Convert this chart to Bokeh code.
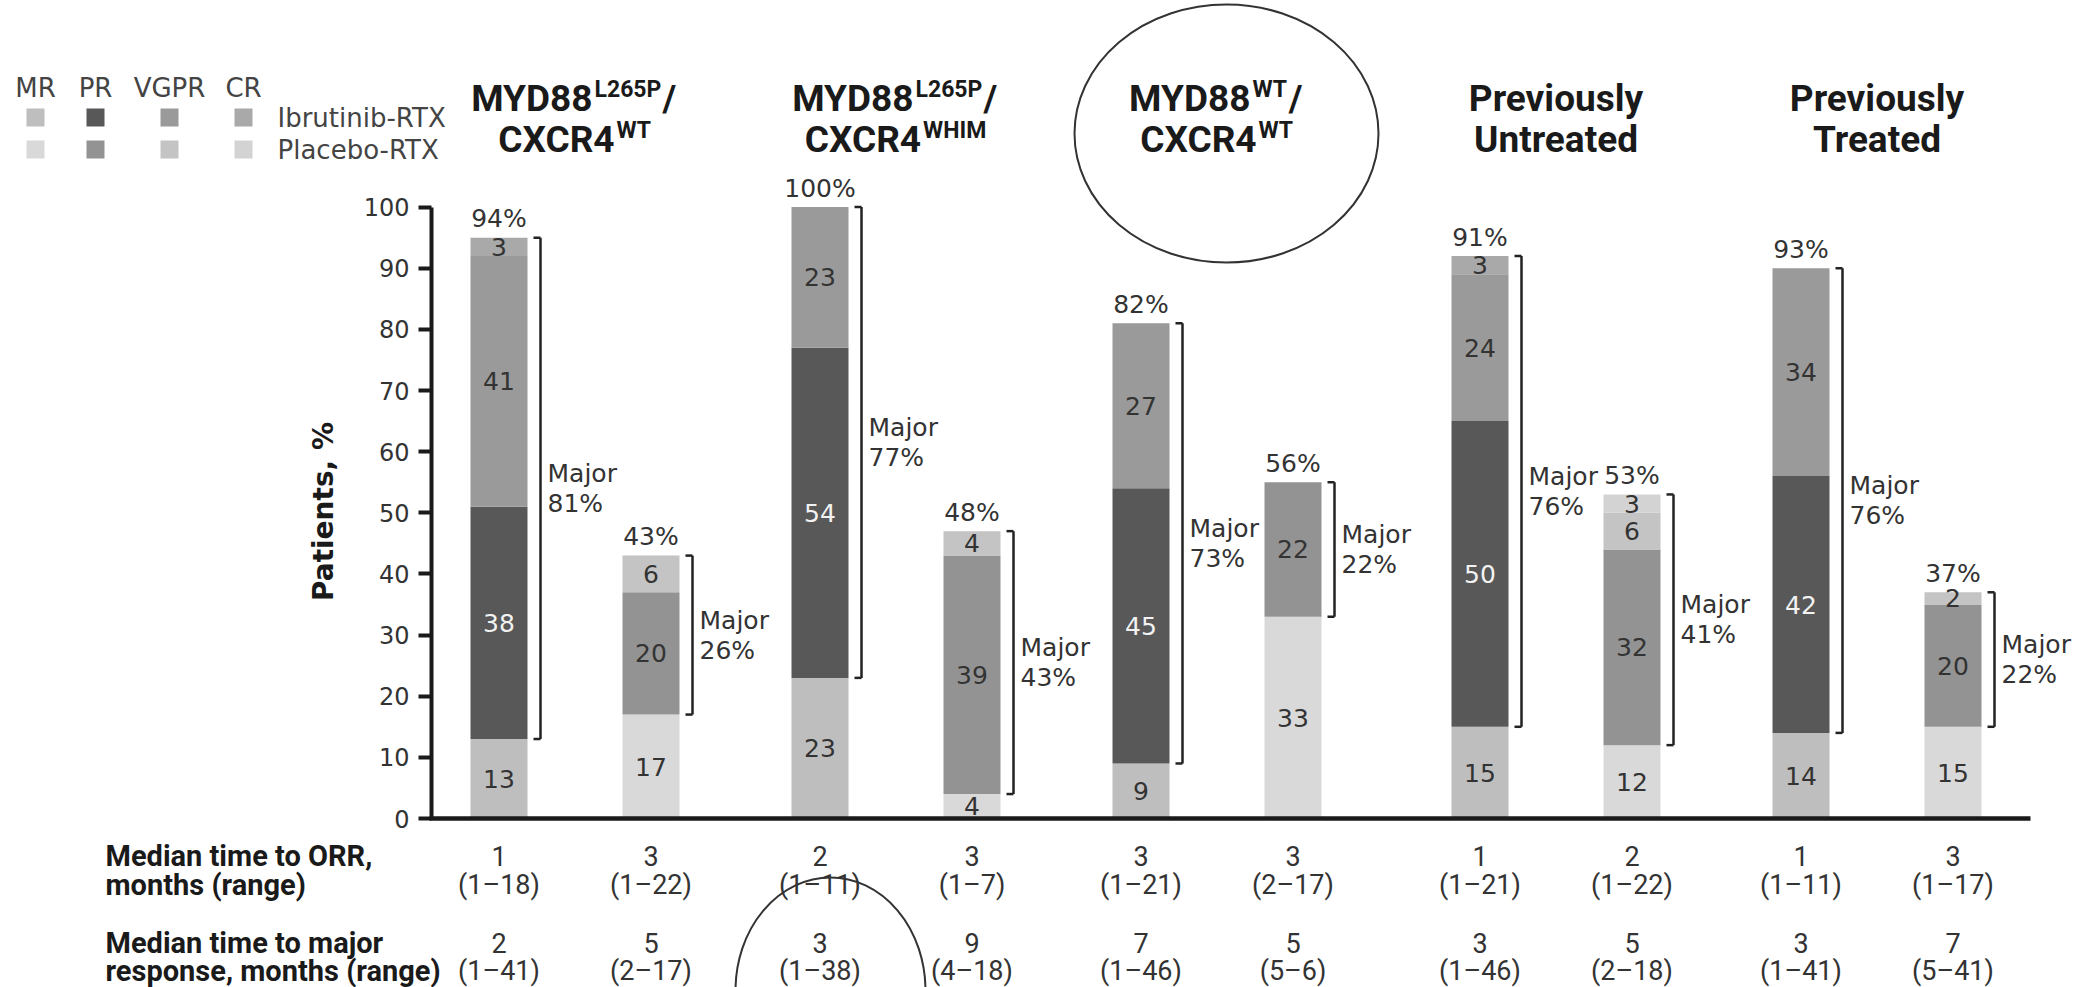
from bokeh.plotting import figure
from bokeh.models import Range1d, LinearAxis, FixedTicker, ColumnDataSource
from bokeh.core.properties import value
from bokeh.embed import file_html
from bokeh.resources import INLINE

# ---------------- data ----------------
responses = ["MR", "PR", "VGPR", "CR"]
arms = ["Ibrutinib-RTX", "Placebo-RTX"]

# subgroup headings (main text, superscript, trailing text) for two lines
head1_main = ["MYD88", "MYD88", "MYD88", "Previously", "Previously"]
head1_sup = ["L265P", "L265P", "WT", "", ""]
head1_tail = ["/", "/", "/", "", ""]
head2_main = ["CXCR4", "CXCR4", "CXCR4", "Untreated", "Treated"]
head2_sup = ["WT", "WHIM", "WT", "", ""]

# response rates (%), one entry per bar: (subgroup x arm) in order
mr = [13, 17, 23, 4, 9, 33, 15, 12, 14, 15]
pr = [38, 20, 54, 39, 45, 22, 50, 32, 42, 20]
vgpr = [41, 6, 23, 4, 27, 0, 24, 6, 34, 2]
cr = [3, 0, 0, 0, 0, 0, 3, 3, 0, 0]
overall = [94, 43, 100, 48, 82, 56, 91, 53, 93, 37]
major = [81, 26, 77, 43, 73, 22, 76, 41, 76, 22]

row1_label = ["Median time to ORR,", "months (range)"]
row2_label = ["Median time to major", "response, months (range)"]
orr_median = ["1", "3", "2", "3", "3", "3", "1", "2", "1", "3"]
orr_range = ["(1–18)", "(1–22)", "(1–11)", "(1–7)", "(1–21)",
             "(2–17)", "(1–21)", "(1–22)", "(1–11)", "(1–17)"]
major_median = ["2", "5", "3", "9", "7", "5", "3", "5", "3", "7"]
major_range = ["(1–41)", "(2–17)", "(1–38)", "(4–18)", "(1–46)",
               "(5–6)", "(1–46)", "(2–18)", "(1–41)", "(5–41)"]

y_ticks = [0, 10, 20, 30, 40, 50, 60, 70, 80, 90, 100]

# ---------------- styling / layout ----------------
W, H = 2087, 987
Y0_PX = 818.0          # canvas row of 0 %
PX_PER_PCT = 6.114     # pixels per percentage point


def ypos(px):
    """data y for a canvas row"""
    return (Y0_PX - px) / PX_PER_PCT


def dy(px):
    return px / PX_PER_PCT


AXIS_X = 431
FIRST_BAR = 498.5
GROUP_STEP = 321
SECTION_GAP = 18
ARM_STEP = 152
BAR_W = 57

FONT = "DejaVu Sans"
BOLD = "Roboto"
NARROW = "Roboto"
TXT = "#333333"

palette = {
    "Ibrutinib-RTX": {"MR": "#bebebe", "PR": "#585858", "VGPR": "#9a9a9a", "CR": "#a9a9a9"},
    "Placebo-RTX": {"MR": "#d9d9d9", "PR": "#939393", "VGPR": "#c4c4c4", "CR": "#d3d3d3"},
}

n_groups = len(head1_main)
centers, bar_arm = [], []
for g in range(n_groups):
    base = FIRST_BAR + g * GROUP_STEP + (SECTION_GAP if g >= 3 else 0)
    for a, arm in enumerate(arms):
        centers.append(base + a * ARM_STEP)
        bar_arm.append(arm)
group_centers = [(centers[2 * g] + centers[2 * g + 1]) / 2 for g in range(n_groups)]

p = figure(width=W, height=H, output_backend="svg", toolbar_location=None,
           x_range=Range1d(0, W), y_range=Range1d(ypos(H), ypos(0)),
           x_axis_type=None, y_axis_type=None, min_border=0,
           outline_line_color=None, background_fill_color="white")
p.xgrid.visible = False
p.ygrid.visible = False

# ---------------- stacked bars ----------------
seg = dict(x=[], bottom=[], top=[], color=[], label=[], ly=[], lcolor=[])
stack_top = []
for i, x in enumerate(centers):
    arm = bar_arm[i]
    base = 0.0
    for resp, vals in zip(responses, [mr, pr, vgpr, cr]):
        v = vals[i]
        if v <= 0:
            continue
        seg["x"].append(x)
        seg["bottom"].append(base)
        seg["top"].append(base + v)
        seg["color"].append(palette[arm][resp])
        seg["label"].append(str(v))
        seg["ly"].append(base + v / 2)
        seg["lcolor"].append("#f2f2f2" if (resp == "PR" and arm == arms[0]) else TXT)
        base += v
    stack_top.append(base)
src = ColumnDataSource(seg)
p.vbar(x="x", bottom="bottom", top="top", width=BAR_W, fill_color="color",
       line_color=None, source=src)
p.text(x="x", y="ly", text="label", text_color="lcolor", source=src,
       text_font=value(FONT), text_font_size="25px",
       text_align="center", text_baseline="middle")

# overall response on top of each bar
p.text(x=centers, y=[t + dy(19) for t in stack_top], text=[f"{v}%" for v in overall],
       text_font=value(FONT), text_font_size="25px", text_color=TXT,
       text_align="center", text_baseline="middle")

# major-response brackets
bx = [x + BAR_W / 2 + 13 for x in centers]
b_lo = [mr[i] for i in range(len(centers))]
b_hi = stack_top
p.segment(x0=bx, y0=b_lo, x1=bx, y1=b_hi, line_color="#222222", line_width=2.5)
p.segment(x0=[x - 7 for x in bx], y0=b_lo, x1=bx, y1=b_lo, line_color="#222222", line_width=2.5)
p.segment(x0=[x - 7 for x in bx], y0=b_hi, x1=bx, y1=b_hi, line_color="#222222", line_width=2.5)
mids = [(lo + hi) / 2 for lo, hi in zip(b_lo, b_hi)]
p.text(x=[x + 7 for x in bx], y=[m + dy(15) for m in mids], text=["Major"] * len(bx),
       text_font=value(FONT), text_font_size="25px", text_color=TXT,
       text_align="left", text_baseline="middle")
p.text(x=[x + 7 for x in bx], y=[m - dy(15) for m in mids], text=[f"{v}%" for v in major],
       text_font=value(FONT), text_font_size="25px", text_color=TXT,
       text_align="left", text_baseline="middle")

# ---------------- axes ----------------
yax = LinearAxis(fixed_location=AXIS_X, bounds=(0, 100), ticker=FixedTicker(ticks=y_ticks))
yax.axis_line_width = 4
yax.axis_line_color = "#1a1a1a"
yax.major_tick_line_width = 4
yax.major_tick_line_color = "#1a1a1a"
yax.major_tick_out = 13
yax.major_tick_in = 0
yax.minor_tick_out = 0
yax.minor_tick_in = 0
yax.major_label_standoff = 9
yax.major_label_text_font = FONT
yax.major_label_text_font_size = "24px"
yax.major_label_text_color = TXT
p.add_layout(yax, "left")

xax = LinearAxis(fixed_location=0, bounds=(AXIS_X - 2, 2030), ticker=FixedTicker(ticks=[]))
xax.axis_line_width = 4.5
xax.axis_line_color = "#1a1a1a"
xax.major_tick_out = 0
xax.major_tick_in = 0
xax.minor_tick_out = 0
xax.minor_tick_in = 0
xax.major_label_text_font_size = "0px"
p.add_layout(xax, "below")

p.text(x=[323], y=[ypos(511)], text=["Patients, %"], angle=1.5707963,
       text_font=value(FONT), text_font_style="bold", text_font_size="28px",
       text_color="#1a1a1a", text_align="center", text_baseline="middle")

# ---------------- subgroup headings ----------------
EM = {"M": 0.88, "Y": 0.63, "D": 0.66, "8": 0.56, "C": 0.65, "X": 0.63, "R": 0.63,
      "4": 0.56, "L": 0.55, "2": 0.56, "6": 0.56, "5": 0.56, "P": 0.64, "W": 0.87,
      "T": 0.62, "H": 0.71, "I": 0.29, "/": 0.45}
HEAD_SIZE, SUP_SIZE = 37, 23


def text_w(s, size):
    return sum(EM.get(c, 0.55) for c in s) * size


def heading_line(c, main, sup, tail, base_px, sup_base_px):
    if not sup:
        p.text(x=[c], y=[ypos(base_px)], text=[main], text_font=value(BOLD),
               text_font_style="bold", text_font_size=f"{HEAD_SIZE}px",
               text_color="#1a1a1a", text_align="center", text_baseline="alphabetic")
        return
    wm, ws, wt = text_w(main, HEAD_SIZE), text_w(sup, SUP_SIZE), text_w(tail, HEAD_SIZE)
    total = wm + 2 + ws + (2 + wt if tail else 0)
    anchor = c - total / 2 + wm
    p.text(x=[anchor], y=[ypos(base_px)], text=[main], text_font=value(BOLD),
           text_font_style="bold", text_font_size=f"{HEAD_SIZE}px",
           text_color="#1a1a1a", text_align="right", text_baseline="alphabetic")
    p.text(x=[anchor + 2], y=[ypos(sup_base_px)], text=[sup], text_font=value(BOLD),
           text_font_style="bold", text_font_size=f"{SUP_SIZE}px",
           text_color="#1a1a1a", text_align="left", text_baseline="alphabetic")
    if tail:
        p.text(x=[anchor + 4 + ws], y=[ypos(base_px)], text=[tail], text_font=value(BOLD),
               text_font_style="bold", text_font_size=f"{HEAD_SIZE}px",
               text_color="#1a1a1a", text_align="left", text_baseline="alphabetic")


for g, c in enumerate(group_centers):
    heading_line(c, head1_main[g], head1_sup[g], head1_tail[g], 98, 89)
    heading_line(c, head2_main[g], head2_sup[g], "", 139, 130)

# ---------------- legend ----------------
leg_x = [35, 95, 169, 243]
leg_rows = [117, 149]
p.text(x=leg_x, y=[ypos(87.5)] * 4, text=responses, text_font=value(FONT),
       text_font_size="26px", text_color="#444444", text_align="center",
       text_baseline="middle")
for r, arm in enumerate(arms):
    p.rect(x=leg_x, y=[ypos(leg_rows[r])] * 4, width=18, height=18,
           width_units="screen", height_units="screen",
           fill_color=[palette[arm][k] for k in responses], line_color=None)
    p.text(x=[277], y=[ypos(leg_rows[r])], text=[arm], text_font=value(FONT),
           text_font_size="26px", text_color="#444444", text_align="left",
           text_baseline="middle")

# ---------------- table of times to response ----------------
ROW_PX = [855, 884, 942, 970]
for k, s in enumerate(row1_label + row2_label):
    p.text(x=[105], y=[ypos(ROW_PX[k])], text=[s], text_font=value(BOLD),
           text_font_style="bold", text_font_size="29px", text_color="#1a1a1a",
           text_align="left", text_baseline="middle")
for k, col in enumerate([orr_median, orr_range, major_median, major_range]):
    p.text(x=centers, y=[ypos(ROW_PX[k])] * len(centers), text=col,
           text_font=value(NARROW), text_font_size="27px", text_color=TXT,
           text_align="center", text_baseline="middle")

# ---------------- highlight rings ----------------
p.ellipse(x=[1226], y=[ypos(133)], width=304, height=258,
          width_units="screen", height_units="screen",
          fill_color=None, line_color="#333333", line_width=2)
p.ellipse(x=[830], y=[ypos(990)], width=190, height=226,
          width_units="screen", height_units="screen",
          fill_color=None, line_color="#333333", line_width=2)

open("out.html", "w").write(file_html(p, INLINE))
